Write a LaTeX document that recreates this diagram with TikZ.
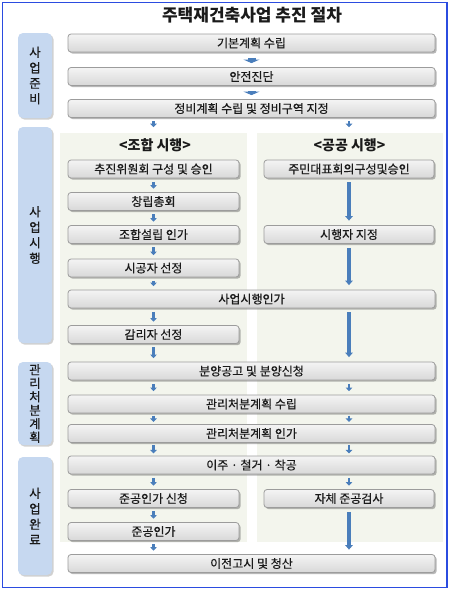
\documentclass[tikz,border=0pt]{standalone}
\usepackage{fontspec}
\setmainfont{Noto Sans CJK KR}
\newfontfamily\boxfont{Noto Sans CJK KR}[FakeBold=0.4]
\usetikzlibrary{arrows.meta,shadows,calc}
\definecolor{arrowblue}{HTML}{4A7EBB}
\definecolor{sidefill}{HTML}{C6D8F0}
\definecolor{boxborder}{HTML}{9C9C9C}
\definecolor{boxtop}{HTML}{F4F4F4}
\definecolor{boxbot}{HTML}{D8D8D8}
\definecolor{colbg}{HTML}{F3F5ED}
\definecolor{framecol}{HTML}{2B4CE0}
\definecolor{txt}{HTML}{1A1A1A}
\begin{document}
\begin{tikzpicture}[x=1pt,y=-1pt,
  box/.style={draw=boxborder, line width=0.8pt, rounded corners=3pt,
    top color=boxtop, bottom color=boxbot,
    drop shadow={shadow xshift=1.6pt, shadow yshift=-1.6pt, opacity=0.4, fill=black!70},
    font=\boxfont\fontsize{12}{13}\selectfont, text=txt, inner sep=0pt, minimum height=18pt},
  wide/.style={box, minimum width=367pt},
  half/.style={box, minimum width=171pt},
  side/.style={fill=sidefill, rounded corners=5pt, minimum width=34pt, inner sep=0pt,
    drop shadow={shadow xshift=1.6pt, shadow yshift=-1.6pt, opacity=0.3, fill=black!60},
    align=center, text=txt, font=\boxfont\fontsize{12.5}{15.5}\selectfont},
  hdr/.style={font=\bfseries\fontsize{14}{15}\selectfont, text=txt, inner sep=1pt},
  sarr/.style={-{Triangle[width=6.5pt,length=3.5pt]}, line width=2.6pt, draw=arrowblue,
    shorten <=3.5pt, shorten >=3.5pt},
  tight/.style={shorten <=2.2pt, shorten >=2.2pt},
  larr/.style={-{Triangle[width=7.5pt,length=4.5pt]}, line width=4.2pt, draw=arrowblue,
    shorten <=4pt, shorten >=4.5pt},
  warr/.style={-{Triangle[width=16pt,length=3.5pt]}, line width=8pt, draw=arrowblue,
    shorten <=5.5pt, shorten >=4pt}
]
\useasboundingbox (0,0) rectangle (450,589);
\fill[white] (0,0) rectangle (450,589);
% column backgrounds
\fill[colbg] (60,133) rectangle (247,542);
\fill[colbg] (257,133) rectangle (443,542);
% frame
\draw[framecol, line width=1.5pt] (2.5,2.5) rectangle (447,587.5);
% title
\node[font=\bfseries\fontsize{17}{19}\selectfont, text=txt] (title) at (252,15) {주택재건축사업 추진 절차};
% side labels
\node[side, minimum height=85pt] (s1) at (35,75.5) {사\\업\\준\\비};
\node[side, minimum height=216pt] (s2) at (35,235) {사\\업\\시\\행};
\node[side, minimum height=83pt, font=\boxfont\fontsize{12.5}{13.5}\selectfont] (s3) at (35,403.5) {관\\리\\처\\분\\계\\획};
\node[side, minimum height=118pt] (s4) at (35,516) {사\\업\\완\\료};
% top boxes
\node[wide] (b1) at (251.5,43) {기본계획 수립};
\node[wide] (b2) at (251.5,76.5) {안전진단};
\node[wide] (b3) at (251.5,108.5) {정비계획 수립 및 정비구역 지정};
% headers
\node[hdr] (hL) at (155,145) {<조합 시행>};
\node[hdr] (hR) at (349.5,145) {<공공 시행>};
% left column
\node[half] (L1) at (153.5,169) {추진위원회 구성 및 승인};
\node[half] (L2) at (153.5,201.5) {창립총회};
\node[half] (L3) at (153.5,234.5) {조합설립 인가};
\node[half] (L4) at (153.5,268) {시공자 선정};
\node[wide] (W1) at (251.5,299) {사업시행인가};
\node[half] (L5) at (153.5,334.5) {감리자 선정};
% right column
\node[half, minimum width=170pt] (R1) at (349,169) {주민대표회의구성및승인};
\node[half, minimum width=170pt] (R2) at (349,234.5) {시행자 지정};
% lower wide boxes
\node[wide] (W2) at (251.5,371) {분양공고 및 분양신청};
\node[wide] (W3) at (251.5,404) {관리처분계획 수립};
\node[wide] (W4) at (251.5,433.5) {관리처분계획 인가};
\node[wide] (W5) at (251.5,465) {이주 · 철거 · 착공};
\node[half] (L6) at (153.5,498.5) {준공인가 신청};
\node[half, minimum width=170pt] (R3) at (349,498.5) {자체 준공검사};
\node[half] (L7) at (153.5,531.5) {준공인가};
\node[wide] (W6) at (251.5,563.5) {이전고시 및 청산};
% arrows
\draw[warr] (b1) -- (b2);
\draw[warr] (b2) -- (b3);
\draw[sarr, shorten >=10pt] (b3.south -| L1) -- (hL.north -| L1);
\draw[sarr, shorten >=10pt] (b3.south -| R1) -- (hR.north -| R1);
\draw[sarr] (L1) -- (L2);
\draw[sarr] (L2) -- (L3);
\draw[sarr] (L3) -- (L4);
\draw[sarr] (L4.south) -- (W1.north -| L4);
\draw[sarr] (W1.south -| L5) -- (L5.north);
\draw[sarr] (L5.south) -- (W2.north -| L5);
\draw[larr] (R1) -- (R2);
\draw[larr] (R2.south) -- (W1.north -| R2);
\draw[larr] (W1.south -| R2) -- (W2.north -| R2);
\draw[sarr] (W2.south -| L1) -- (W3.north -| L1);
\draw[sarr] (W2.south -| R1) -- (W3.north -| R1);
\draw[sarr, tight] (W3.south -| L1) -- (W4.north -| L1);
\draw[sarr, tight] (W3.south -| R1) -- (W4.north -| R1);
\draw[sarr, tight] (W4.south -| L1) -- (W5.north -| L1);
\draw[sarr, tight] (W4.south -| R1) -- (W5.north -| R1);
\draw[sarr] (W5.south -| L6) -- (L6.north);
\draw[sarr] (W5.south -| R3) -- (R3.north);
\draw[sarr] (L6) -- (L7);
\draw[sarr] (L7.south) -- (W6.north -| L7);
\draw[larr] (R3.south) -- (W6.north -| R3);
\end{tikzpicture}
\end{document}
